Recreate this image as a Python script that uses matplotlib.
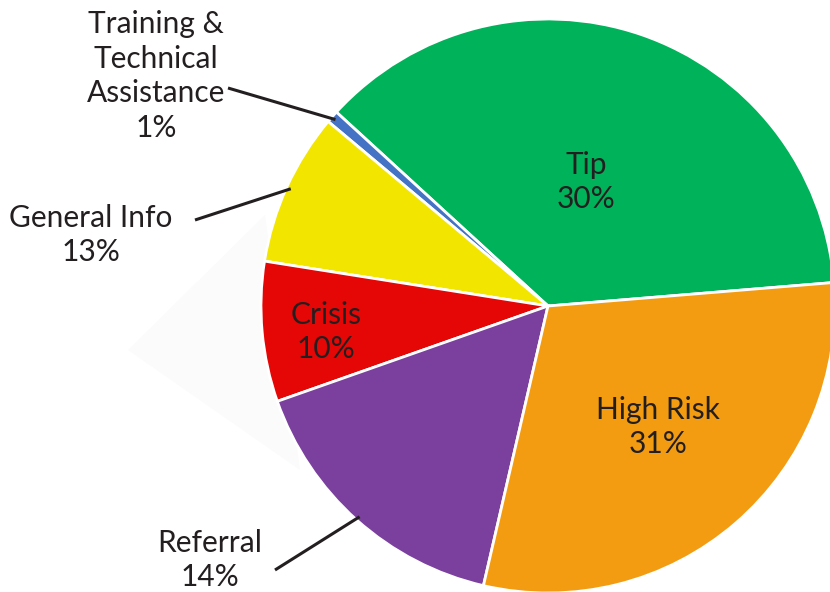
import numpy as np
import matplotlib.pyplot as plt

# slice shares as drawn (degrees), label text as printed
names = ["Tip", "Training &\nTechnical\nAssistance", "General Info", "Crisis", "Referral", "High Risk"]
shares = [132.8, 2.5, 31.0, 28.4, 57.6, 107.7]
percents = ["30%", "1%", "13%", "10%", "14%", "31%"]
colors = ["#00b259", "#4472c4", "#f2e500", "#e50606", "#7b3f9e", "#f39c12"]

W, H = 830, 592
fig = plt.figure(figsize=(W / 100, H / 100), dpi=100)
ax = fig.add_axes([0, 0, 1, 1])

cx, cy, R = 548, H - 306, 287
start = 4.7

# faint drop shadow behind the pie
ax.add_patch(plt.Polygon([(128, H - 350), (265, H - 215), (300, H - 470)],
                         closed=True, color="#fbfbfb", lw=0, zorder=0))

wedges, _ = ax.pie(shares, colors=colors, startangle=start, counterclock=True,
                   center=(cx, cy), radius=R,
                   wedgeprops=dict(edgecolor="white", linewidth=2))

txt = dict(ha="center", va="center", fontsize=21.5, color="#231f20",
           family="Lato", linespacing=1.3)

# labels inside the wedges
inside = {0: (586, 182), 3: (326, 332), 5: (658, 427)}
for i, (x, y) in inside.items():
    ax.text(x, H - y, names[i] + "\n" + percents[i], **txt)

# labels outside with leader lines
outside = {1: ((156, 76), (228, 88)), 2: ((91, 235), (195, 220)), 4: ((210, 560), (275, 570))}
for i, ((x, y), (lx, ly)) in outside.items():
    ax.text(x, H - y, names[i] + "\n" + percents[i], **txt)
    a0 = start + sum(shares[:i])
    mid = np.radians(a0 + shares[i] / 2)
    ex, ey = cx + 0.985 * R * np.cos(mid), cy + 0.985 * R * np.sin(mid)
    ax.plot([lx, ex], [H - ly, ey], color="#231f20", lw=2.2, solid_capstyle="butt", zorder=5)

ax.set_xlim(0, W)
ax.set_ylim(0, H)
ax.set_aspect("equal")
ax.axis("off")
fig.savefig("out.png", dpi=100)
